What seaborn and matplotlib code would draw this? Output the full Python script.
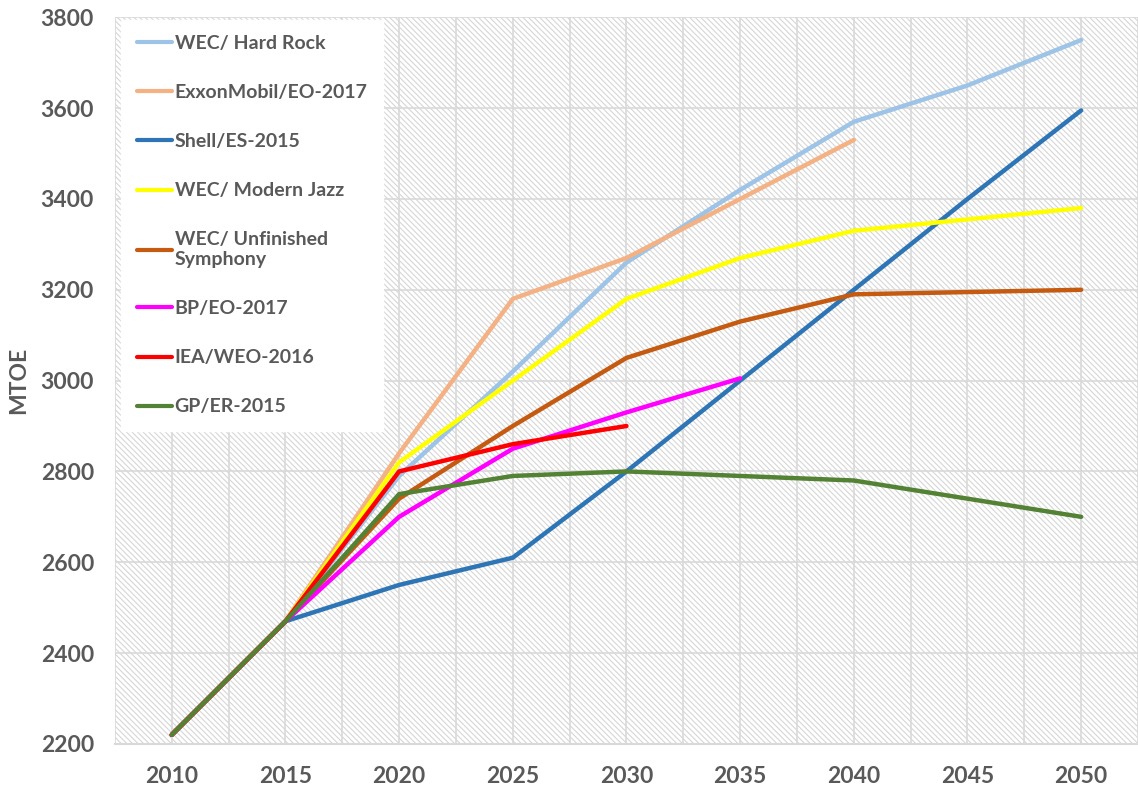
import numpy as np
import pandas as pd
import matplotlib
matplotlib.use("Agg")
import matplotlib.pyplot as plt
import seaborn as sns

years = [2010, 2015, 2020, 2025, 2030, 2035, 2040, 2045, 2050]

hard_rock = [2220, 2470, 2790, 3020, 3260, 3420, 3570, 3650, 3750]
exxon = [2220, 2470, 2840, 3180, 3270, 3400, 3530, None, None]
shell = [2220, 2470, 2550, 2610, 2800, 3000, 3200, 3400, 3595]
modern_jazz = [2220, 2470, 2820, 3000, 3180, 3270, 3330, 3355, 3380]
unfinished = [2220, 2470, 2740, 2900, 3050, 3130, 3190, 3195, 3200]
bp = [2220, 2470, 2700, 2850, 2930, 3005, None, None, None]
iea = [2220, 2470, 2800, 2860, 2900, None, None, None, None]
gp = [2220, 2470, 2750, 2790, 2800, 2790, 2780, 2740, 2700]

series = {
    "WEC/ Hard Rock": hard_rock,
    "ExxonMobil/EO-2017": exxon,
    "Shell/ES-2015": shell,
    "WEC/ Modern Jazz": modern_jazz,
    "WEC/ Unfinished\nSymphony": unfinished,
    "BP/EO-2017": bp,
    "IEA/WEO-2016": iea,
    "GP/ER-2015": gp,
}
colors = ["#9DC3E6", "#F4B183", "#2E75B6", "#FFFF00",
          "#C55A11", "#FF00FF", "#FF0000", "#548235"]
names = list(series.keys())

rows = []
for name, vals in series.items():
    for y, v in zip(years, vals):
        if v is not None:
            rows.append({"year": y, "value": v, "scenario": name})
df = pd.DataFrame(rows)

sns.set_style("white")
plt.rcParams["font.family"] = ["Lato", "DejaVu Sans"]
plt.rcParams["hatch.linewidth"] = 0.8

fig = plt.figure(figsize=(11.38, 7.88), dpi=100)
ax = fig.add_axes([0.101, 0.056, 0.899, 0.922])

# hatched background like the Excel plot area
ax.patch.set_facecolor("white")
ax.patch.set_edgecolor("#D6D6D6")
ax.patch.set_hatch("\\\\\\\\\\\\")
ax.patch.set_linewidth(0)

sns.lineplot(data=df, x="year", y="value", hue="scenario", hue_order=names,
             palette=dict(zip(names, colors)), linewidth=3.2, sort=False,
             estimator=None, ax=ax, zorder=3)

ax.set_xlim(2007.5, 2052.1)
ax.set_ylim(2200, 3800)
ax.set_xticks(years)
ax.set_xticks(np.arange(2007.5, 2053, 5), minor=True)
ax.set_yticks(np.arange(2200, 3801, 200))
ax.grid(True, which="both", color="#D9D9D9", linewidth=1.2, zorder=1)
ax.tick_params(which="both", length=0)
ax.tick_params(axis="x", pad=16)
ax.tick_params(axis="y", pad=15)
for lbl in ax.get_xticklabels() + ax.get_yticklabels():
    lbl.set_fontsize(16.5)
    lbl.set_fontweight("bold")
    lbl.set_color("#595959")

for s in ["top", "right", "left"]:
    ax.spines[s].set_visible(False)
ax.spines["bottom"].set_color("#D9D9D9")
ax.spines["bottom"].set_linewidth(1.5)

ax.set_xlabel("")
ax.set_ylabel("MTOE", fontsize=16.5, fontweight="bold", color="#595959", labelpad=8)

leg = ax.legend(loc="upper left", bbox_to_anchor=(0.006, 0.997), frameon=True,
                fancybox=False, framealpha=1, edgecolor="white",
                prop={"family": "Lato", "weight": "bold", "size": 14},
                labelspacing=1.65, handlelength=1.8, handletextpad=0.15,
                borderpad=0.8, borderaxespad=0)
for t in leg.get_texts():
    t.set_color("#595959")
for h in leg.get_lines():
    h.set_linewidth(3)
leg.set_zorder(5)

fig.savefig("out.png", dpi=100)
